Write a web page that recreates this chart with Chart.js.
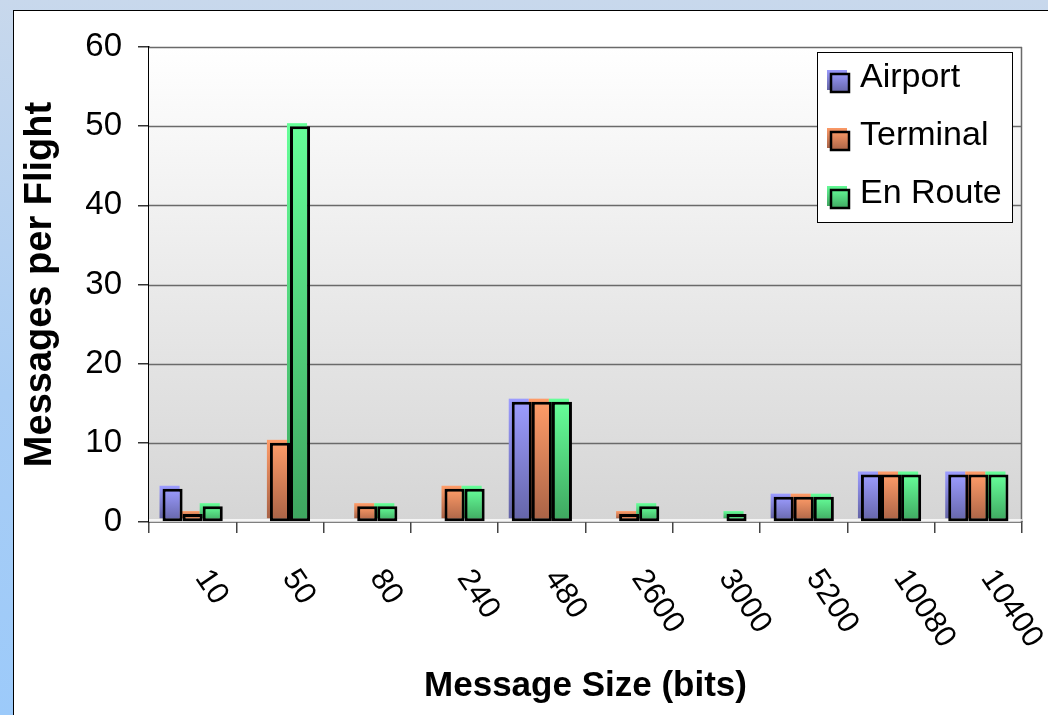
<!DOCTYPE html>
<html>
<head>
<meta charset="utf-8">
<title>Messages per Flight</title>
<script src="https://cdn.jsdelivr.net/npm/chart.js@4.4.0/dist/chart.umd.min.js"></script>
<style>
  html, body { margin: 0; padding: 0; }
  body {
    width: 1048px; height: 715px; overflow: hidden; position: relative;
    background: linear-gradient(to bottom, #c8d8ec 0%, #a9cdf4 55%, #9ccafa 100%);
  }
  #sheet {
    position: absolute; left: 13px; top: 10px; width: 1100px; height: 800px;
    background: #fff; border-left: 1px solid #000; border-top: 1px solid #000;
  }
  #chart { position: absolute; left: 0; top: 0; }
</style>
</head>
<body>
<div id="sheet"></div>
<canvas id="chart" width="1048" height="715"></canvas>
<script>
const sizeLabels = ['10', '50', '80', '240', '480', '2600', '3000', '5200', '10080', '10400'];
const seriesNames = ['Airport', 'Terminal', 'En Route'];
const airport  = [4.2, 0, 0, 0, 15.2, 0, 0, 3.2, 6, 6];
const terminal = [1, 10, 2, 4.2, 15.2, 1, 0, 3.2, 6, 6];
const enRoute  = [2, 50, 2, 4.2, 15.2, 2, 1, 3.2, 6, 6];
const yMin = 0, yMax = 60, yStep = 10;

const FONT = '"Liberation Sans", Arial, sans-serif';

// light (top) and dark (bottom) shade of each series
const shades = [
  { light: '#9c9cff', dark: '#6464a6' },
  { light: '#ff9c68', dark: '#a86246' },
  { light: '#66ff99', dark: '#3ea55f' }
];

function barGradient(ctx, top, base, shade) {
  const g = ctx.createLinearGradient(0, top, 0, base);
  g.addColorStop(0, shade.light);
  g.addColorStop(1, shade.dark);
  return g;
}

function barFill(shade) {
  return (c) => {
    const y = c.chart.scales.y;
    if (c.type !== 'data' || !y) return shade.light;
    const top = y.getPixelForValue(c.raw);
    const base = y.getPixelForValue(0);
    if (!isFinite(top) || !isFinite(base) || base - top < 1) return shade.light;
    return barGradient(c.chart.ctx, top, base, shade);
  };
}

// plot background plus the coloured copy of each bar nudged up and left
const backdrop = {
  id: 'backdrop',
  beforeDatasetsDraw(chart) {
    const { ctx, chartArea: a } = chart;
    ctx.save();
    const g = ctx.createLinearGradient(0, a.top, 0, a.bottom);
    g.addColorStop(0, '#ffffff');
    g.addColorStop(1, '#d5d5d5');
    ctx.fillStyle = g;
    ctx.fillRect(a.left, a.top, a.right - a.left, a.bottom - a.top);

    // redraw the horizontal grid over the fill
    const y = chart.scales.y;
    ctx.strokeStyle = '#6a6a6a';
    ctx.lineWidth = 1.5;
    for (let v = yMin + yStep; v <= yMax; v += yStep) {
      const py = Math.round(y.getPixelForValue(v)) + 0.5;
      ctx.beginPath();
      ctx.moveTo(a.left, py);
      ctx.lineTo(a.right, py);
      ctx.stroke();
    }
    ctx.beginPath();
    ctx.moveTo(a.right - 0.5, a.top);
    ctx.lineTo(a.right - 0.5, a.bottom);
    ctx.stroke();
    ctx.strokeStyle = '#ffffff';
    ctx.lineWidth = 1.5;
    ctx.beginPath();
    ctx.moveTo(a.left, a.bottom - 2);
    ctx.lineTo(a.right, a.bottom - 2);
    ctx.stroke();

    const off = 3;
    chart.data.datasets.forEach((ds, i) => {
      chart.getDatasetMeta(i).data.forEach((bar, j) => {
        if (!ds.data[j]) return;
        const { x, y: top, base, width } = bar.getProps(['x', 'y', 'base', 'width'], true);
        ctx.fillStyle = barGradient(ctx, top - off, base - off, shades[i]);
        ctx.fillRect(x - width / 2 - off, top - off, width, base - top);
      });
    });
    ctx.restore();
  }
};

// slanted category labels and the boxed legend
const annotations = {
  id: 'annotations',
  afterDraw(chart) {
    const { ctx } = chart;
    const x = chart.scales.x;
    ctx.save();
    ctx.fillStyle = '#000';
    ctx.font = '31px ' + FONT;
    ctx.textAlign = 'left';
    ctx.textBaseline = 'middle';
    sizeLabels.forEach((lab, i) => {
      const cx = x.getPixelForValue(i);
      ctx.save();
      ctx.translate(cx + 9, 573);
      ctx.rotate(56 * Math.PI / 180);
      ctx.fillText(lab, 0, 0);
      ctx.restore();
    });

    ctx.fillStyle = '#fff';
    ctx.fillRect(817, 52, 195, 170);
    ctx.strokeStyle = '#000';
    ctx.lineWidth = 1;
    ctx.strokeRect(817.5, 52.5, 195, 170);
    ctx.font = '34px ' + FONT;
    seriesNames.forEach((name, i) => {
      const ry = 78 + i * 58;
      const sh = shades[i];
      ctx.fillStyle = barGradient(ctx, ry - 9, ry + 12, sh);
      ctx.fillRect(827, ry - 8, 20, 20);
      ctx.fillStyle = barGradient(ctx, ry - 6, ry + 15, sh);
      ctx.fillRect(830, ry - 5, 20, 20);
      ctx.strokeStyle = '#000';
      ctx.lineWidth = 2.5;
      ctx.strokeRect(831, ry - 4, 18, 18);
      ctx.fillStyle = '#000';
      ctx.fillText(name, 860, ry);
    });
    ctx.restore();
  }
};

const seriesData = [airport, terminal, enRoute];

new Chart(document.getElementById('chart'), {
  type: 'bar',
  data: {
    labels: sizeLabels,
    datasets: seriesNames.map((name, i) => ({
      label: name,
      data: seriesData[i],
      backgroundColor: barFill(shades[i]),
      borderColor: '#000',
      borderWidth: (c) => (c.raw ? 3 : 0),
      borderSkipped: false
    }))
  },
  options: {
    responsive: false,
    animation: false,
    layout: { padding: { top: 47, right: 26, left: 0, bottom: 0 } },
    datasets: { bar: { categoryPercentage: 0.69, barPercentage: 1 } },
    plugins: {
      legend: { display: false },
      tooltip: { enabled: false }
    },
    scales: {
      x: {
        grid: { offset: true, drawOnChartArea: false, tickLength: 11, color: '#444', lineWidth: 1.5 },
        border: { color: '#000', width: 1.5 },
        ticks: { display: false },
        title: {
          display: true,
          text: 'Message Size (bits)',
          color: '#000',
          font: { family: FONT, size: 35, weight: 'bold' },
          padding: { top: 0, bottom: 8 }
        },
        afterFit: (s) => { s.height = 193; }
      },
      y: {
        min: yMin,
        max: yMax,
        ticks: { stepSize: yStep, color: '#000', padding: 16, font: { family: FONT, size: 33 } },
        grid: { color: 'rgba(0,0,0,0)', tickColor: '#333', tickLength: 11, lineWidth: 1.5 },
        border: { color: '#000', width: 1.5 },
        title: {
          display: true,
          text: 'Messages per Flight',
          color: '#000',
          font: { family: FONT, size: 38, weight: 'bold' },
          padding: { top: 18, bottom: 0 }
        },
        afterFit: (s) => { s.width = 149; }
      }
    }
  },
  plugins: [backdrop, annotations]
});
</script>
</body>
</html>
